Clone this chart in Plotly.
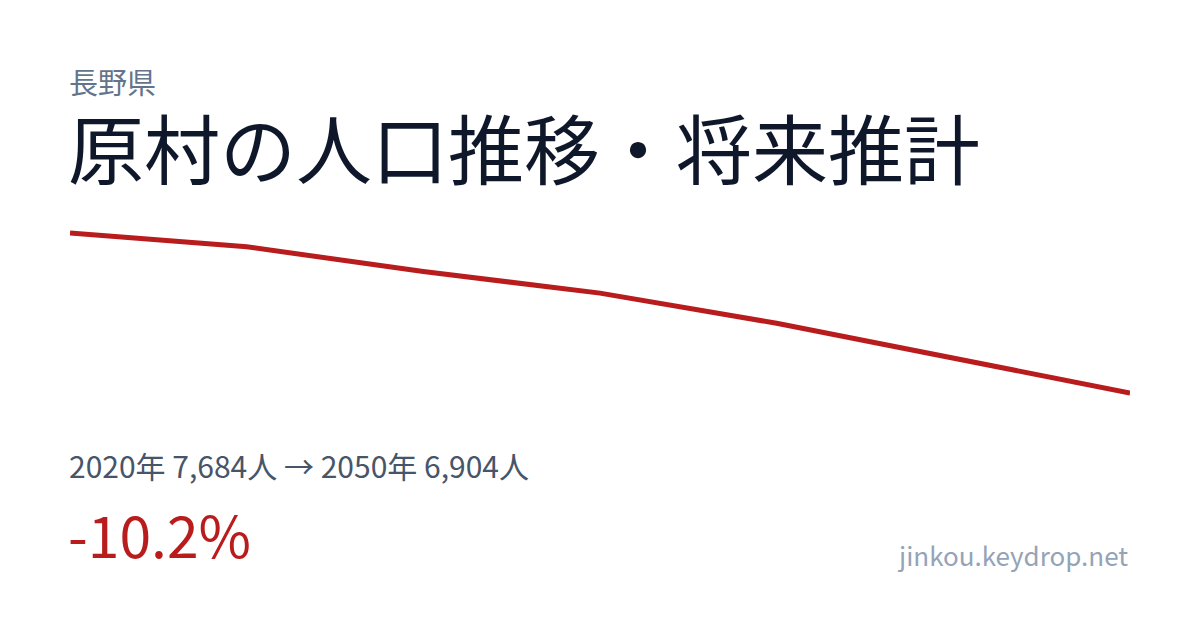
import plotly.graph_objects as go

years = [2020, 2025, 2030, 2035, 2040, 2045, 2050]
population = [7684, 7617, 7496, 7391, 7244, 7073, 6904]

prefecture = "長野県"
title = "原村の人口推移・将来推計"
summary = "2020年 7,684人 → 2050年 6,904人"
change = "-10.2%"
site = "jinkou.keydrop.net"

W, H = 1200, 630
OFF = 8  # page offset of the figure
L, R, T, B = 70 - OFF, 70 + OFF, 213 - OFF, 217 + OFF
FONT = "Noto Sans CJK JP"

fig = go.Figure()
fig.add_trace(go.Scatter(
    x=years, y=population, mode="lines",
    line=dict(color="#b91c1c", width=5),
    hoverinfo="skip", showlegend=False,
))

def px_x(px):
    return (px - OFF - L) / (W - L - R)

def px_y(py):
    return (H - B - (py - OFF)) / (H - T - B)

def ann(text, x, y, size, color, xanchor="left"):
    fig.add_annotation(
        text=text, xref="paper", yref="paper",
        x=px_x(x), y=px_y(y), xanchor=xanchor, yanchor="middle",
        showarrow=False, font=dict(family=FONT, size=size, color=color),
    )

ann(prefecture, 67, 81, 29, "#64748b")
ann(title, 66, 146, 76, "#0f172a")
ann(summary, 67, 465, 30, "#475569")
ann(change, 66, 533, 57, "#b91c1c")
ann(site, 1130, 554, 26, "#94a3b8", xanchor="right")

fig.update_layout(
    width=W, height=H,
    margin=dict(l=L, r=R, t=T, b=B),
    paper_bgcolor="white", plot_bgcolor="white",
    xaxis=dict(range=[2020, 2050], visible=False, fixedrange=True),
    yaxis=dict(range=[6806.5, 7781.5], visible=False, fixedrange=True),
    showlegend=False,
)

fig.write_html("out.html", config={"displayModeBar": False})
